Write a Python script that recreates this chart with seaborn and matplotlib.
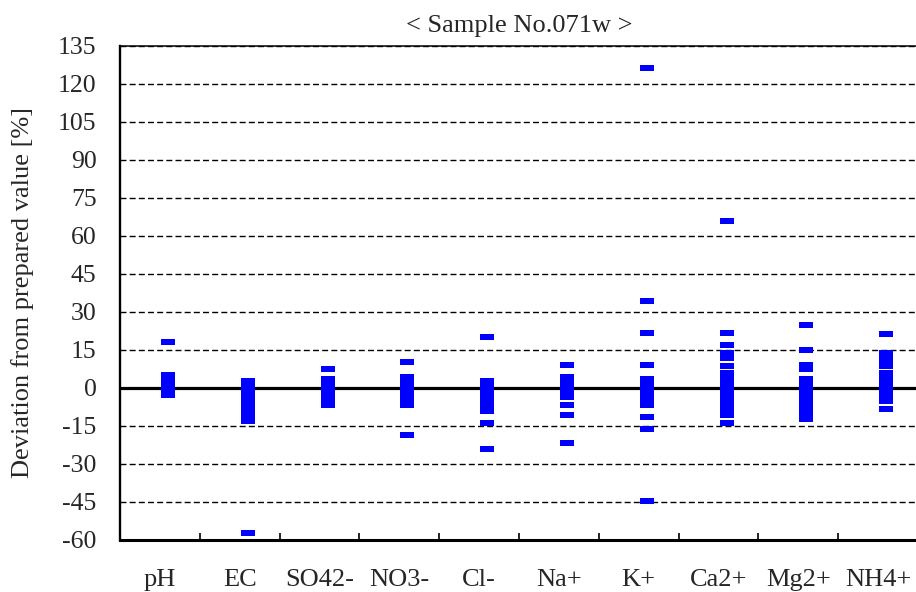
import numpy as np
import pandas as pd
import matplotlib
matplotlib.use("Agg")
import matplotlib.pyplot as plt
from matplotlib.transforms import ScaledTranslation
import seaborn as sns

# Deviation of each laboratory's reported value from the prepared value [%]
items = ["pH", "EC", "SO42-", "NO3-", "Cl-", "Na+", "K+", "Ca2+", "Mg2+", "NH4+"]

ph = [18.1, 5.0, 3.8, 2.6, 1.5, 0.4, -0.8, -1.8, -2.7]
ec = [2.7, 1.5, 0.2, -1.2, -2.6, -3.9, -5.3, -6.6, -7.9, -9.1, -10.4, -11.8, -13.0, -57.2]
so4 = [7.5, 3.5, 2.2, 1.0, -0.3, -1.6, -2.9, -4.1, -5.4, -6.7]
no3 = [10.3, 4.4, 1.9, 0.6, -0.7, -2.0, -3.3, -4.6, -5.6, -6.7, -18.6]
cl = [20.1, 2.7, 1.5, 0.3, -0.9, -2.2, -3.3, -4.3, -6.7, -9.1, -13.8, -24.1]
na = [9.1, 4.3, 3.0, 1.8, 0.6, -0.6, -1.8, -2.8, -3.6, -6.7, -10.7, -21.7]
k = [126.4, 34.4, 21.7, 9.1, 3.6, 2.4, 1.1, -0.1, -1.4, -2.8, -4.0, -5.4, -6.7,
     -11.4, -16.2, -44.6]
ca = [65.9, 21.7, 17.0, 13.8, 12.7, 11.7, 8.7, 5.9, 5.1, 2.8, 1.6, 0.3, -1.0,
      -2.2, -3.4, -4.7, -5.9, -8.3, -10.7, -13.8]
mg = [24.9, 15.0, 9.1, 7.5, 3.6, 1.2, 0.0, -1.3, -2.5, -3.8, -5.0, -6.3, -7.5,
      -9.9, -12.2]
nh4 = [21.3, 13.8, 12.5, 11.1, 9.8, 8.5, 5.9, 4.6, 3.3, 2.0, 0.7, -0.6, -1.9,
       -3.1, -4.1, -5.1, -8.3]

series = [ph, ec, so4, no3, cl, na, k, ca, mg, nh4]
yticks = list(range(-60, 136, 15))

df = pd.DataFrame(
    [(name, v) for name, vals in zip(items, series) for v in vals],
    columns=["item", "deviation"],
)

sns.set_style("white")
plt.rcParams["font.family"] = ["Liberation Serif", "DejaVu Serif"]

fig = plt.figure(figsize=(9.16, 5.92), dpi=100)
ax = fig.add_axes([120 / 916, 1 - 540 / 592, 798 / 916, 494 / 592])

# flat bar-shaped marker, 14 px wide and 5 px tall
bar_marker = [(-7, -2.5), (7, -2.5), (7, 2.5), (-7, 2.5)]
sns.stripplot(data=df, x="item", y="deviation", order=items, jitter=False,
              marker=bar_marker, size=10.1, color="#0000FF", linewidth=0,
              ax=ax, zorder=4)
shift = ScaledTranslation(0.08, 0, fig.dpi_scale_trans)
for coll in ax.collections:
    coll.set_offset_transform(ax.transData + shift)

ax.set_xlim(-0.5, 9.5)
ax.set_ylim(-60, 135)
ax.set_yticks(yticks)
ax.set_yticklabels([str(t) for t in yticks])

ax.yaxis.grid(True, color="black", linewidth=1.0, linestyle=(0, (4.3, 2.3)))
ax.xaxis.grid(False)
ax.set_axisbelow(True)
ax.axhline(0, color="black", linewidth=2.3, zorder=3)

for side, lw in [("left", 1.7), ("bottom", 2.2), ("top", 1.1)]:
    ax.spines[side].set_visible(True)
    ax.spines[side].set_color("black")
    ax.spines[side].set_linewidth(lw)
ax.spines["right"].set_visible(False)

ax.set_xticks(np.arange(0.5, 9.5, 1), minor=True)
ax.tick_params(axis="x", which="minor", direction="in", length=5, width=1.2,
               color="black", bottom=True)
ax.tick_params(axis="x", which="major", length=0, pad=21, labelsize=19)
ax.tick_params(axis="y", which="major", length=0, pad=17, labelsize=18.5)

ax.set_xlabel("")
ax.set_ylabel("Deviation from prepared value [%]", fontsize=19, labelpad=17)
ax.set_title("< Sample No.071w >", fontsize=19, pad=10)

fig.savefig("out.png", dpi=100)
